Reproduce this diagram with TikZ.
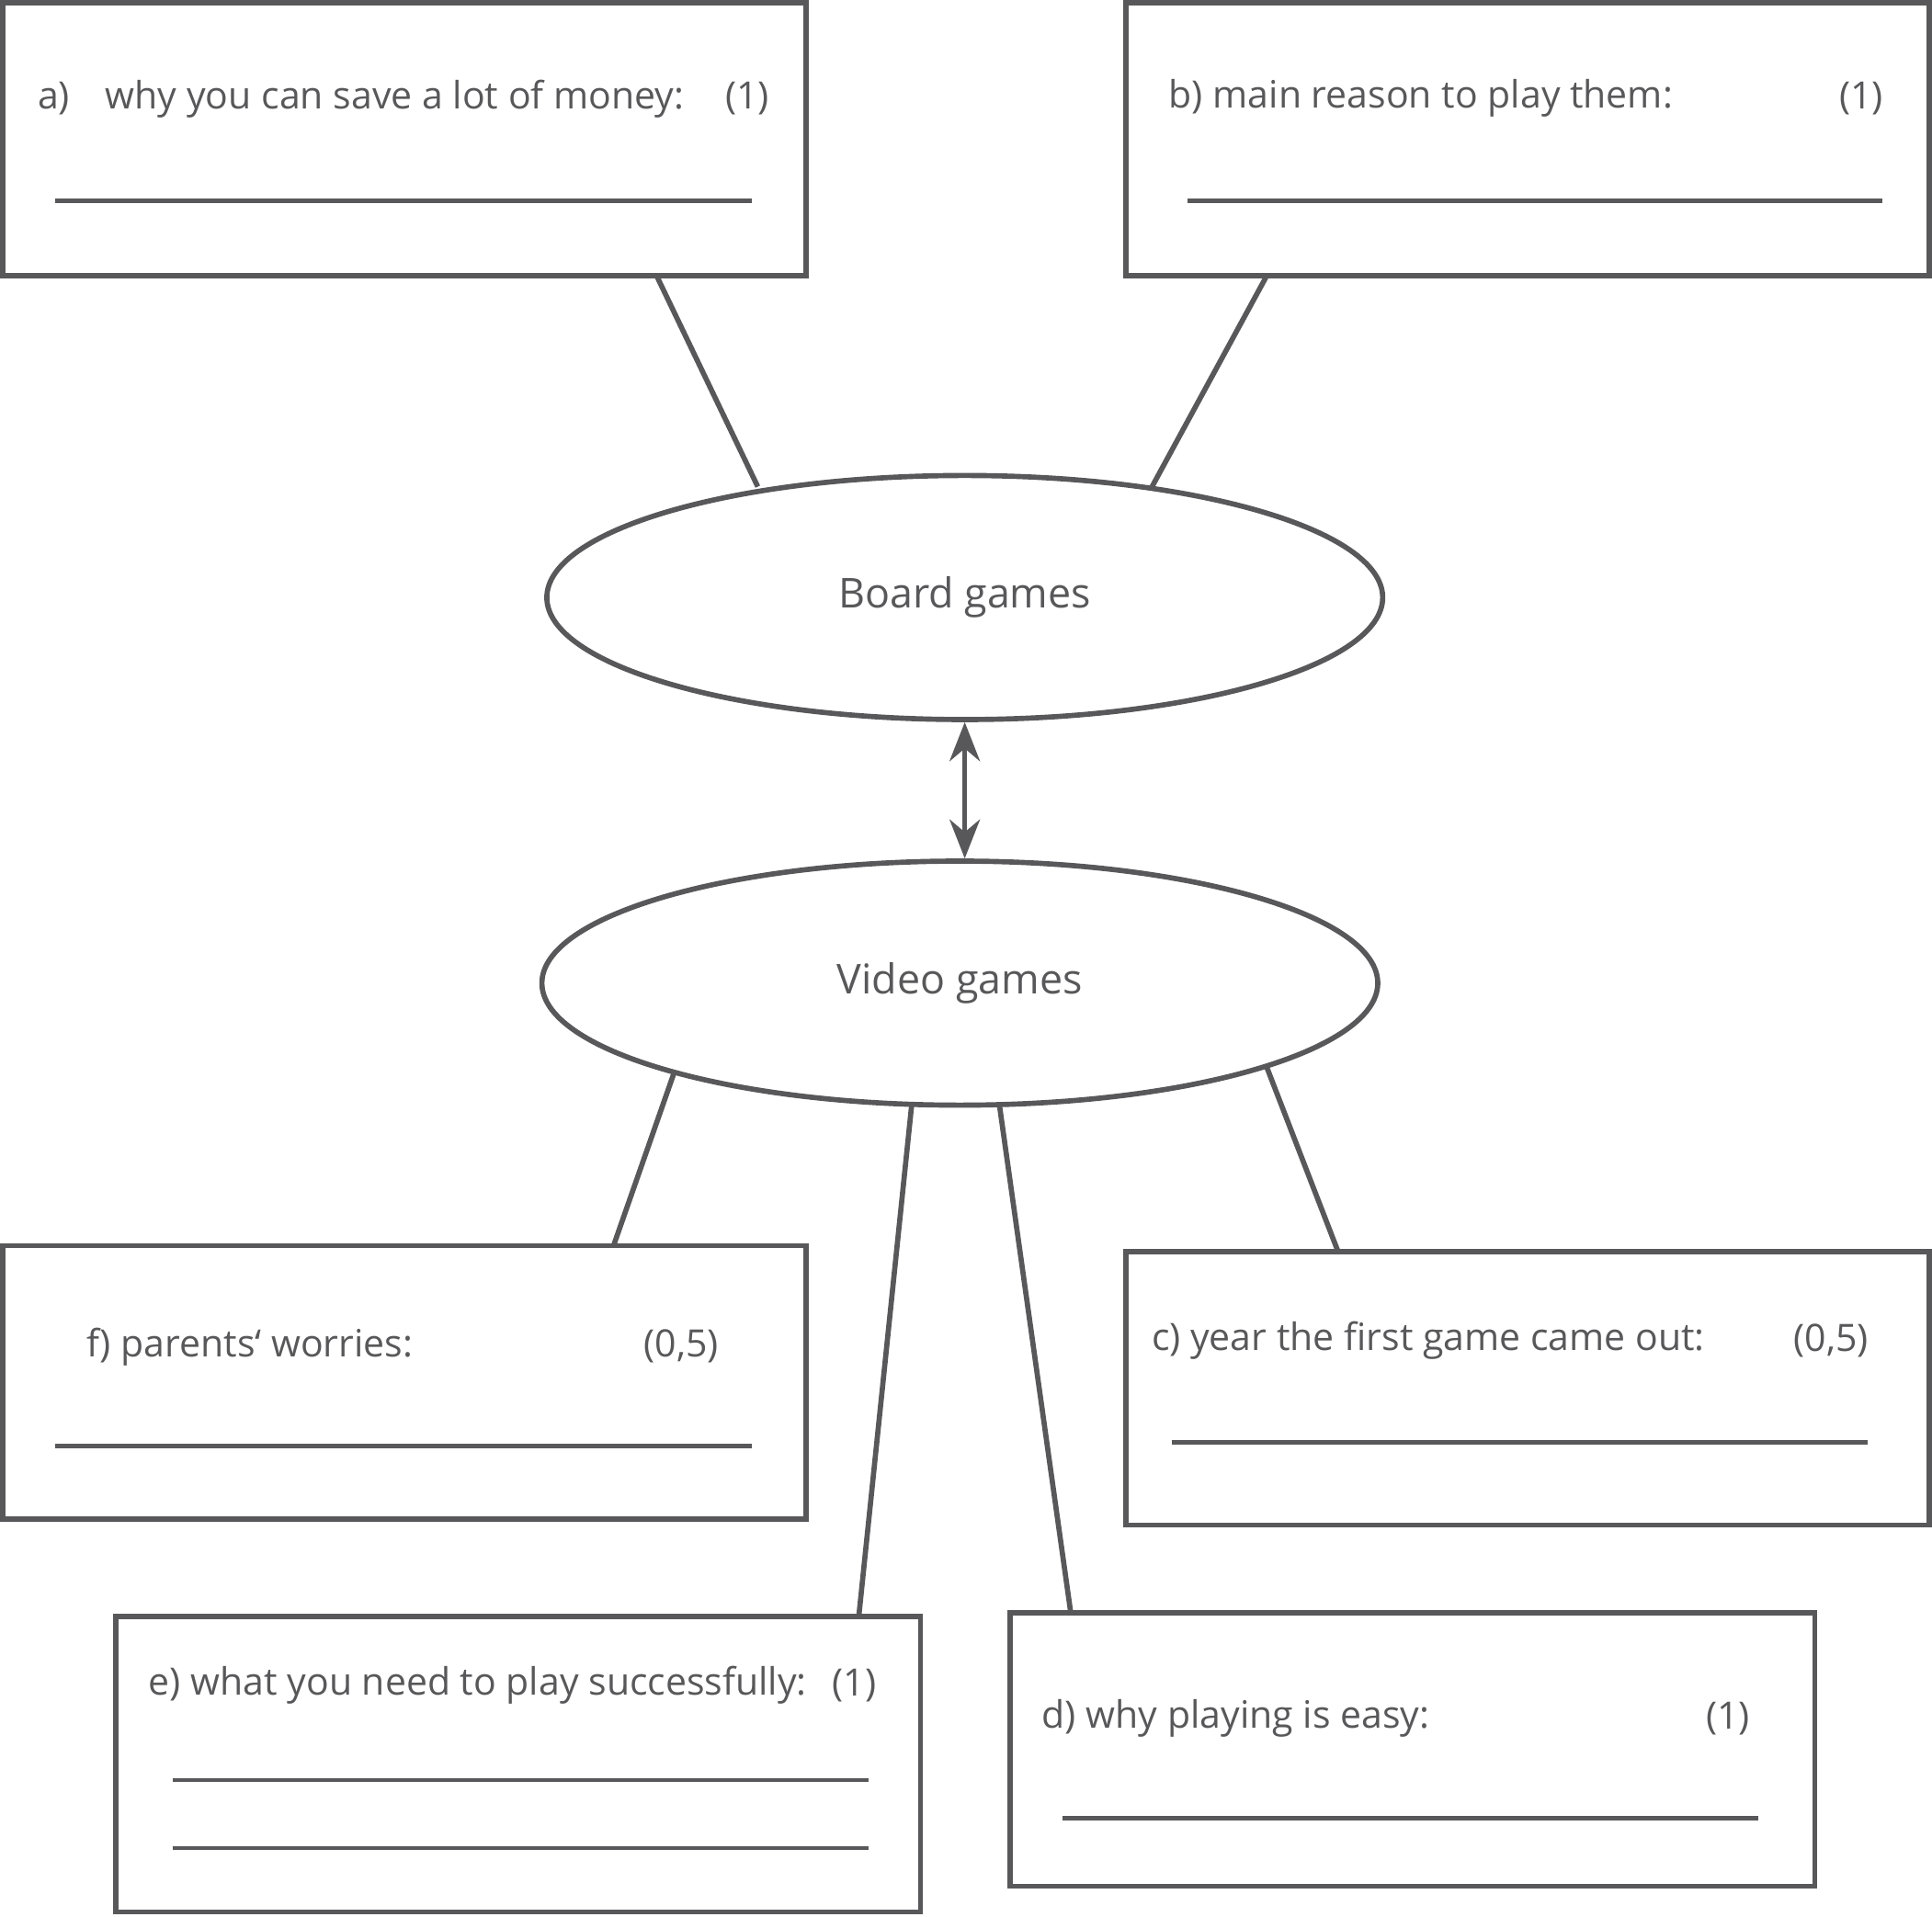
\documentclass[tikz,border=0pt]{standalone}
\usepackage{fontspec}
\setmainfont{Open Sans}
\usetikzlibrary{shapes.geometric,arrows.meta}
\definecolor{ink}{HTML}{58585A}
\tikzset{
  box/.style={draw=ink, line width=1.2pt},
  topic/.style={draw=ink, line width=1.2pt, ellipse, minimum width=6.78cm, minimum height=1.98cm, text=ink},
  txt/.style={anchor=west, text=ink, inner sep=0pt, font=\fontsize{8.7}{10}\selectfont},
  gap/.style={draw=ink, line width=1pt},
  link/.style={draw=ink, line width=1.2pt}
}
\begin{document}
\begin{tikzpicture}[x=0.01cm, y=-0.01cm]
    \useasboundingbox (0,0) rectangle (1568,1556);
    % Boxes
    \draw[box] (2,2) rectangle (654,224);
    \draw[box] (914,2) rectangle (1566,224);
    \draw[box] (2,1011) rectangle (654,1233);
    \draw[box] (914,1016) rectangle (1566,1238);
    \draw[box] (94,1312) rectangle (747,1552);
    \draw[box] (820,1309) rectangle (1473,1531);

    % Texts
    \node[txt] (qa) at (30,80) {a)};
    \node[txt] (qat) at (85,80) {why you can save a lot of money:};
    \node[txt] (pa) at (588,80) {(1)};
    \node[txt] (qb) at (948,80) {b) main reason to play them:};
    \node[txt] (pb) at (1492,80) {(1)};
    \node[txt] (qf) at (70,1093) {f) parents‘ worries:};
    \node[txt] (pf) at (522,1093) {(0,5)};
    \node[txt] (qc) at (934,1088) {c) year the first game came out:};
    \node[txt] (pc) at (1455,1088) {(0,5)};
    \node[txt] (qe) at (120,1368) {e) what you need to play successfully:};
    \node[txt] (pe) at (675,1368) {(1)};
    \node[txt] (qd) at (845,1395) {d) why playing is easy:};
    \node[txt] (pd) at (1384,1395) {(1)};

    % Answer lines
    \draw[gap] (45,163) -- (610,163);
    \draw[gap] (964,163) -- (1528,163);
    \draw[gap] (45,1174) -- (610,1174);
    \draw[gap] (951,1171) -- (1516,1171);
    \draw[gap] (140,1445) -- (705,1445);
    \draw[gap] (140,1500) -- (705,1500);
    \draw[gap] (862,1476) -- (1427,1476);

    % Topics
    \node[topic, font=\fontsize{9.5}{11}\selectfont] (board) at (783,485) {Board games};
    \node[topic, font=\fontsize{9.5}{11}\selectfont] (video) at (779,798) {Video games};
    \draw[link, {Stealth[length=9pt,width=7pt]}-{Stealth[length=9pt,width=7pt]}] (board.south) -- (video.north -| board.south);

    % Connector ends
    \coordinate (ea) at (533,224);  \coordinate (sa) at (615,395);
    \coordinate (eb) at (1028,224); \coordinate (sb) at (935,395);
    \coordinate (ef) at (498,1011); \coordinate (sf) at (547,871);
    \coordinate (ec) at (1086,1016); \coordinate (sc) at (1028,866);
    \coordinate (ee) at (697,1312); \coordinate (se) at (740,896);
    \coordinate (ed) at (869,1309); \coordinate (sd) at (811,896);

    \draw[link] (ea) -- (sa);
    \draw[link] (eb) -- (sb);
    \draw[link] (ef) -- (sf);
    \draw[link] (ec) -- (sc);
    \draw[link] (ee) -- (se);
    \draw[link] (ed) -- (sd);
\end{tikzpicture}
\end{document}
